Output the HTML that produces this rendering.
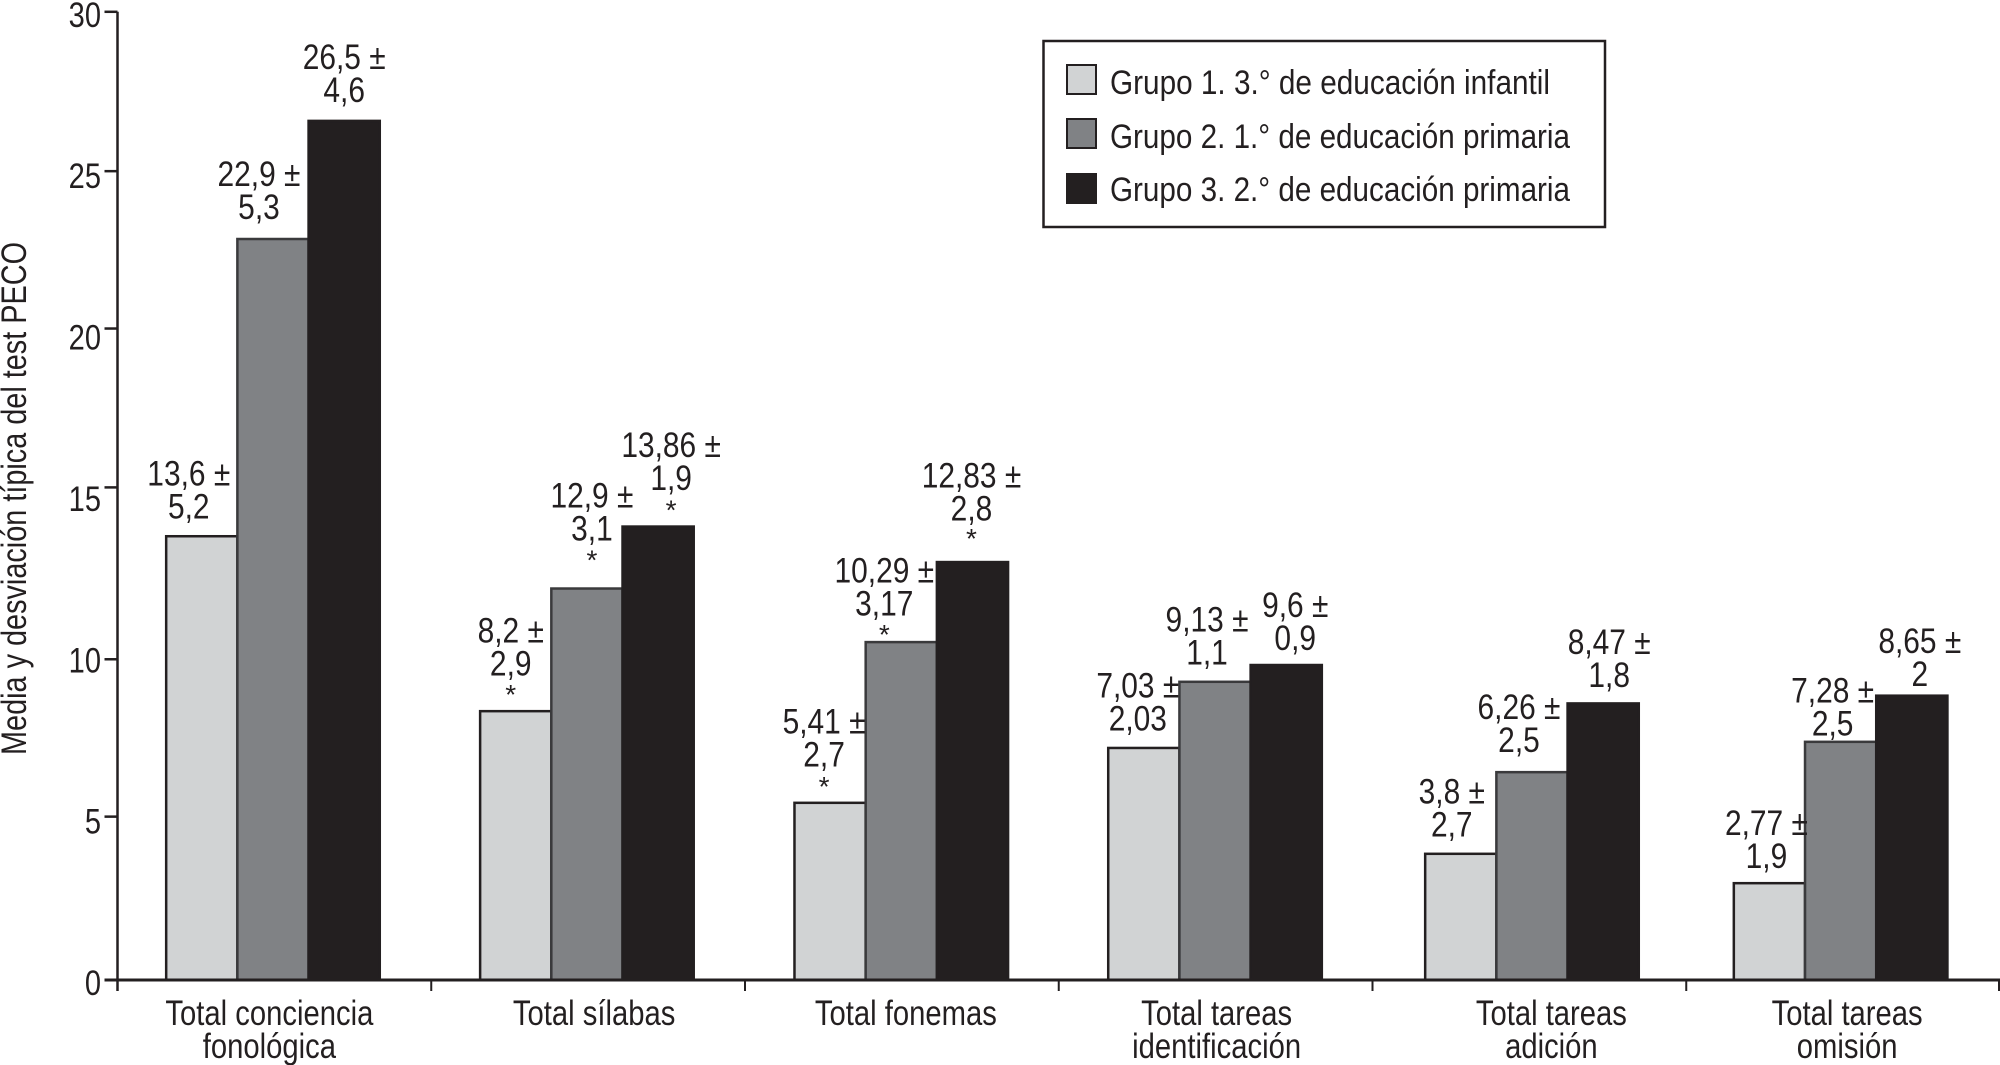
<!DOCTYPE html>
<html lang="es">
<head>
<meta charset="utf-8">
<title>Media y desviación típica del test PECO</title>
<style>
html,body{margin:0;padding:0;background:#fff;width:2000px;height:1065px;overflow:hidden}
svg{display:block}
text{font-family:"Liberation Sans",sans-serif;fill:#231f20}
</style>
</head>
<body>
<svg id="chart" xmlns="http://www.w3.org/2000/svg" width="2000" height="1065" viewBox="0 0 2000 1065">
  <text transform="translate(26,755) rotate(-90)" font-size="35" textLength="513" lengthAdjust="spacingAndGlyphs">Media y desviación típica del test PECO</text>
  <g id="bars"></g>
  <g id="value-labels"></g>
  <g id="axes"></g>
  <g>
    <rect x="1043.5" y="41" width="561.5" height="186" fill="#fff" stroke="#231f20" stroke-width="2.5"/>
    <rect x="1067" y="65" width="29" height="29" fill="#d1d3d4" stroke="#231f20" stroke-width="2"/>
    <rect x="1067" y="119" width="29" height="29" fill="#808285" stroke="#231f20" stroke-width="2"/>
    <rect x="1066" y="173" width="31" height="31" fill="#231f20"/>
    <text x="1110" y="94" font-size="34" textLength="440" lengthAdjust="spacingAndGlyphs">Grupo 1. 3.° de educación infantil</text>
    <text x="1110" y="148" font-size="34" textLength="460" lengthAdjust="spacingAndGlyphs">Grupo 2. 1.° de educación primaria</text>
    <text x="1110" y="201" font-size="34" textLength="460" lengthAdjust="spacingAndGlyphs">Grupo 3. 2.° de educación primaria</text>
  </g>
</svg>
<script>
// ---- chart data ----
const categories = [
  ["Total conciencia", "fonológica"],
  ["Total sílabas"],
  ["Total fonemas"],
  ["Total tareas", "identificación"],
  ["Total tareas", "adición"],
  ["Total tareas", "omisión"]
];
const tickValues = [0, 5, 10, 15, 20, 25, 30];
// bar heights
const grupo1Values = [13.75, 8.33, 5.49, 7.19, 3.91, 3.0];
const grupo2Values = [22.96, 12.13, 10.47, 9.24, 6.44, 7.38];
const grupo3Values = [26.62, 14.05, 12.95, 9.76, 8.57, 8.81];
// printed annotations
const grupo1Means = ["13,6", "8,2", "5,41", "7,03", "3,8", "2,77"];
const grupo1Sds = ["5,2", "2,9", "2,7", "2,03", "2,7", "1,9"];
const grupo2Means = ["22,9", "12,9", "10,29", "9,13", "6,26", "7,28"];
const grupo2Sds = ["5,3", "3,1", "3,17", "1,1", "2,5", "2,5"];
const grupo3Means = ["26,5", "13,86", "12,83", "9,6", "8,47", "8,65"];
const grupo3Sds = ["4,6", "1,9", "2,8", "0,9", "1,8", "2"];
const grupo1Stars = [false, true, true, false, false, false];
const grupo2Stars = [false, true, true, false, false, false];
const grupo3Stars = [false, true, true, false, false, false];

// ---- layout (not data) ----
const SVGNS = "http://www.w3.org/2000/svg";
const plot = {left: 117.5, right: 2000, base: 980, top: 11.8, max: 30};
const barW = 71.2;
const seriesStyle = [
  {fill: "#d1d3d4", stroke: "#231f20", name: "grupo-1"},
  {fill: "#808285", stroke: "#3a3a3c", name: "grupo-2"},
  {fill: "#231f20", stroke: "#231f20", name: "grupo-3"}
];
// small offsets reproducing the hand-placed artwork of the printed figure
const groupShift = [-1.4, -1.2, -0.6, -0.6, 2.6, -2.5];
const catShift = [-5, 6, 4, 1, 22, 4];
const tickShift = {0: 0, 5: -2, 10: 2, 15: -8.5, 20: -6, 25: -2, 30: 0};
const labelShiftX = [
  [-13, -5, -6, -6, -9, -3],
  [-14, 5, -17, -8, -13, -8],
  [0, 13, -1, 9, 6, 8]
];
const labelLift = [
  [28, 46, 47, 28, 28, 25.5],
  [30.6, 58.7, 37, 28, 30.6, 16.6],
  [29.3, 47.2, 52.3, 25.5, 26.8, 20.4]
];
const starLift = [
  [0, 20, 20, 0, 0, 0],
  [0, 32, 11, 0, 0, 0],
  [0, 20, 27, 0, 0, 0]
];

// ---- axis functions ----
function yScale(v) { return plot.base - (v / plot.max) * (plot.base - plot.top); }
function bandCenter(i) { return plot.left + (plot.right - plot.left) / categories.length * (i + 0.5); }
function bandEdge(i) { return plot.left + (plot.right - plot.left) / categories.length * i; }
function groupCenter(i) { return bandCenter(i) + groupShift[i]; }
function barX(i, s) { return groupCenter(i) - 1.5 * barW + s * barW; }

function svgEl(tag, attrs, parent) {
  const el = document.createElementNS(SVGNS, tag);
  for (const k in attrs) el.setAttribute(k, attrs[k]);
  parent.appendChild(el);
  return el;
}
function squeezedText(parent, cx, y, str, size, sx) {
  const t = svgEl("text", {transform: "translate(" + cx + "," + y + ") scale(" + sx + ",1)", "text-anchor": "middle", "font-size": size}, parent);
  t.textContent = str;
  return t;
}

const barsG = document.getElementById("bars");
const labelsG = document.getElementById("value-labels");
const axesG = document.getElementById("axes");
const seriesValues = [grupo1Values, grupo2Values, grupo3Values];
const seriesMeans = [grupo1Means, grupo2Means, grupo3Means];
const seriesSds = [grupo1Sds, grupo2Sds, grupo3Sds];
const seriesStars = [grupo1Stars, grupo2Stars, grupo3Stars];

// bars & annotations
seriesValues.forEach(function (values, s) {
  values.forEach(function (v, i) {
    const top = yScale(v);
    const bar = svgEl("rect", {
      x: barX(i, s), y: top, width: barW, height: plot.base - top,
      fill: seriesStyle[s].fill, stroke: seriesStyle[s].stroke, "stroke-width": 2.5
    }, barsG);
    
    

    const cx = barX(i, s) + barW / 2 + labelShiftX[s][i];
    const line2Base = top - labelLift[s][i] + 10.5;
    const l1 = squeezedText(labelsG, cx, line2Base - 33, seriesMeans[s][i] + " ±", 35, 0.855);
    
    
    const l2 = squeezedText(labelsG, cx, line2Base, seriesSds[s][i], 35, 0.855);
    
    
    if (seriesStars[s][i]) {
      const st = squeezedText(labelsG, cx, top - starLift[s][i] + 13, "*", 28, 1);
      
      
    }
  });
});

// y axis
const yLine = svgEl("line", {x1: plot.left, x2: plot.left, y1: yScale(30) , y2: plot.base + 11, stroke: "#231f20", "stroke-width": 2.5}, axesG);


tickValues.forEach(function (v) {
  const ty = yScale(v) + tickShift[v];
  const tick = svgEl("line", {x1: plot.left - 13, x2: plot.left, y1: ty, y2: ty, stroke: "#231f20", "stroke-width": 2.5}, axesG);
  
  
  const lab = svgEl("text", {transform: "translate(101," + (yScale(v) + 15) + ") scale(0.83,1)", "text-anchor": "end", "font-size": 35}, axesG);
  lab.textContent = String(v);
  
  
});

// x axis
const xLine = svgEl("line", {x1: plot.left - 13, x2: plot.right, y1: plot.base, y2: plot.base, stroke: "#231f20", "stroke-width": 3}, axesG);


for (let i = 0; i <= categories.length; i++) {
  const ex = Math.min(bandEdge(i), plot.right - 1);
  const xt = svgEl("line", {x1: ex, x2: ex, y1: plot.base, y2: plot.base + 11, stroke: "#231f20", "stroke-width": 2}, axesG);
  
  
}
categories.forEach(function (lines, i) {
  lines.forEach(function (line, j) {
    const c = squeezedText(axesG, bandCenter(i) + catShift[i], 1025 + j * 33, line, 35, 0.835);
    
    
  });
});
</script>
</body>
</html>
